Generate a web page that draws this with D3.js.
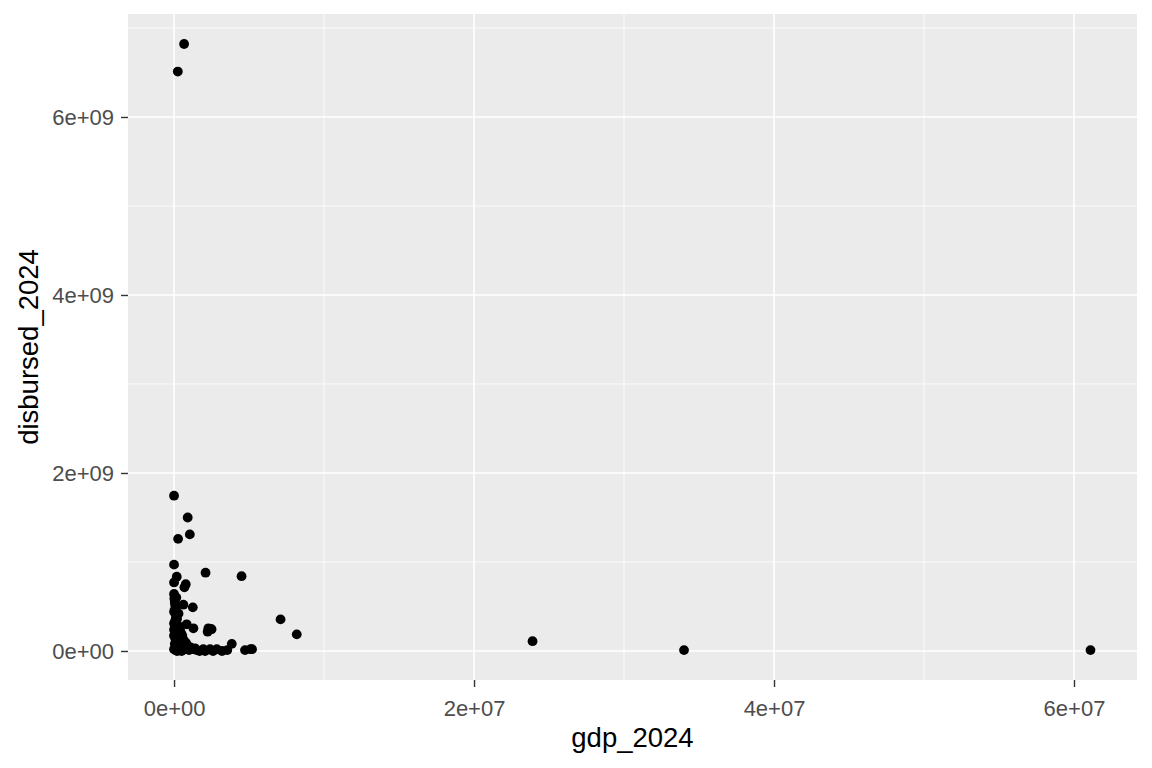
<!DOCTYPE html>
<html><head><meta charset="utf-8">
<script src="https://cdn.jsdelivr.net/npm/d3@7"></script>
<style>body{margin:0;background:#fff;}svg{display:block;}</style>
</head><body>
<svg id="c" width="1152" height="768"></svg>
<script>
// gdp_2024 values (x) and disbursed_2024 values (y)
const gdp = [
  0.67e6, 0.25e6,
  0.0e6, 0.91e6, 1.05e6, 0.27e6, 0.0e6, 2.1e6, 4.5e6, 0.18e6, 0.0e6, 0.78e6, 0.69e6,
  0.0e6, 0.02e6, 0.62e6, 1.25e6, 0.07e6, 0.0e6, 0.3e6, 7.1e6, 0.84e6, 1.29e6, 2.29e6,
  2.5e6, 2.24e6, 8.18e6, 0.0e6, 0.0e6, 0.4e6, 0.0e6, 0.5e6, 0.6e6, 0.8e6,
  0.0e6, 0.4e6, 0.84e6, 1.3e6, 1.95e6, 2.4e6, 2.85e6, 3.85e6, 3.55e6, 4.73e6, 5.1e6,
  2.07e6, 2.6e6, 5.2e6, 2.44e6,
  0.05e6, 0.1e6, 0.15e6, 0.2e6, 0.05e6, 0.1e6, 0.2e6, 0.3e6, 0.1e6, 0.05e6, 0.15e6,
  0.25e6, 0.35e6, 0.1e6, 0.2e6, 0.45e6, 0.55e6, 0.1e6, 0.3e6, 0.65e6, 0.05e6, 0.15e6,
  0.2e6, 1.0e6, 1.1e6, 1.5e6, 1.7e6, 0.9e6, 0.5e6, 0.35e6, 0.25e6, 1.4e6, 3.2e6,
  0.12e6, 0.08e6, 0.03e6, 0.18e6, 0.4e6, 0.7e6, 0.55e6,
  23.9e6, 34.0e6, 61.1e6
];
const disbursed = [
  6.82e9, 6.51e9,
  1.745e9, 1.50e9, 1.31e9, 1.26e9, 0.97e9, 0.88e9, 0.84e9, 0.835e9, 0.77e9, 0.75e9, 0.715e9,
  0.64e9, 0.59e9, 0.52e9, 0.49e9, 0.52e9, 0.44e9, 0.42e9, 0.355e9, 0.30e9, 0.255e9, 0.255e9,
  0.245e9, 0.217e9, 0.187e9, 0.31e9, 0.24e9, 0.24e9, 0.17e9, 0.19e9, 0.11e9, 0.09e9,
  0.02e9, 0.02e9, 0.02e9, 0.02e9, 0.02e9, 0.02e9, 0.02e9, 0.08e9, 0.01e9, 0.01e9, 0.02e9,
  0.0e9, 0.0e9, 0.02e9, 0.245e9,
  0.55e9, 0.48e9, 0.40e9, 0.36e9, 0.33e9, 0.27e9, 0.21e9, 0.15e9, 0.13e9, 0.08e9, 0.05e9,
  0.06e9, 0.10e9, 0.01e9, 0.03e9, 0.03e9, 0.05e9, 0.20e9, 0.28e9, 0.12e9, 0.46e9, 0.60e9,
  0.0e9, 0.01e9, 0.04e9, 0.01e9, 0.0e9, 0.06e9, 0.0e9, 0.14e9, 0.09e9, 0.03e9, 0.0e9,
  0.37e9, 0.26e9, 0.18e9, 0.01e9, 0.06e9, 0.02e9, 0.17e9,
  0.11e9, 0.01e9, 0.01e9
];
const xTicks = [0, 2e7, 4e7, 6e7];
const xTickLabels = ["0e+00", "2e+07", "4e+07", "6e+07"];
const xMinor = [1e7, 3e7, 5e7];
const yTicks = [0, 2e9, 4e9, 6e9];
const yTickLabels = ["0e+00", "2e+09", "4e+09", "6e+09"];
const yMinor = [1e9, 3e9, 5e9, 7e9];

const FONT = "Liberation Sans, Arial, sans-serif";
const P = {l:128, r:1137, t:14, b:680};
const x = d3.scaleLinear().domain([-3.07e6, 64.2e6]).range([P.l, P.r]);
const y = d3.scaleLinear().domain([-0.326e9, 7.157e9]).range([P.b, P.t]);
const svg = d3.select("#c");
svg.append("rect").attr("x",P.l).attr("y",P.t).attr("width",P.r-P.l).attr("height",P.b-P.t).attr("fill","#EBEBEB");
const g = svg.append("g");
g.selectAll(".xm").data(xMinor).join("line").attr("x1",d=>x(d)).attr("x2",d=>x(d)).attr("y1",P.t).attr("y2",P.b).attr("stroke","#fff").attr("stroke-width",0.8);
g.selectAll(".ym").data(yMinor).join("line").attr("y1",d=>y(d)).attr("y2",d=>y(d)).attr("x1",P.l).attr("x2",P.r).attr("stroke","#fff").attr("stroke-width",0.8);
g.selectAll(".xM").data(xTicks).join("line").attr("x1",d=>x(d)).attr("x2",d=>x(d)).attr("y1",P.t).attr("y2",P.b).attr("stroke","#fff").attr("stroke-width",1.6);
g.selectAll(".yM").data(yTicks).join("line").attr("y1",d=>y(d)).attr("y2",d=>y(d)).attr("x1",P.l).attr("x2",P.r).attr("stroke","#fff").attr("stroke-width",1.6);

const pts = gdp.map((v,i)=>({x:v,y:disbursed[i]}));
svg.append("g").selectAll("circle").data(pts).join("circle")
  .attr("cx",d=>x(d.x)).attr("cy",d=>y(d.y)).attr("r",4.9).attr("fill","#000");

// axes
const xAxis = d3.axisBottom(x).tickValues(xTicks).tickFormat((d,i)=>xTickLabels[i]).tickSize(7).tickPadding(4);
const yAxis = d3.axisLeft(y).tickValues(yTicks).tickFormat((d,i)=>yTickLabels[i]).tickSize(7).tickPadding(7);
const gx = svg.append("g").attr("transform",`translate(0,${P.b})`).call(xAxis);
const gy = svg.append("g").attr("transform",`translate(${P.l},0)`).call(yAxis);
[gx,gy].forEach(a=>{
  a.select(".domain").remove();
  a.selectAll(".tick line").attr("stroke","#333").attr("stroke-width",1.4);
  a.selectAll(".tick text").attr("fill","#4D4D4D").style("font-family",FONT).style("font-size","22px");
});
gx.selectAll(".tick text").attr("y",36).attr("dy","0");
gy.selectAll(".tick text").attr("dy","0.36em");
svg.append("text").attr("x",(P.l+P.r)/2).attr("y",747).attr("text-anchor","middle")
  .style("font-family",FONT).style("font-size","27.5px").attr("fill","#000").text("gdp_2024");
svg.append("text").attr("transform",`translate(38,${(P.t+P.b)/2}) rotate(-90)`).attr("text-anchor","middle")
  .style("font-family",FONT).style("font-size","27.5px").attr("fill","#000").text("disbursed_2024");
</script>
</body></html>
